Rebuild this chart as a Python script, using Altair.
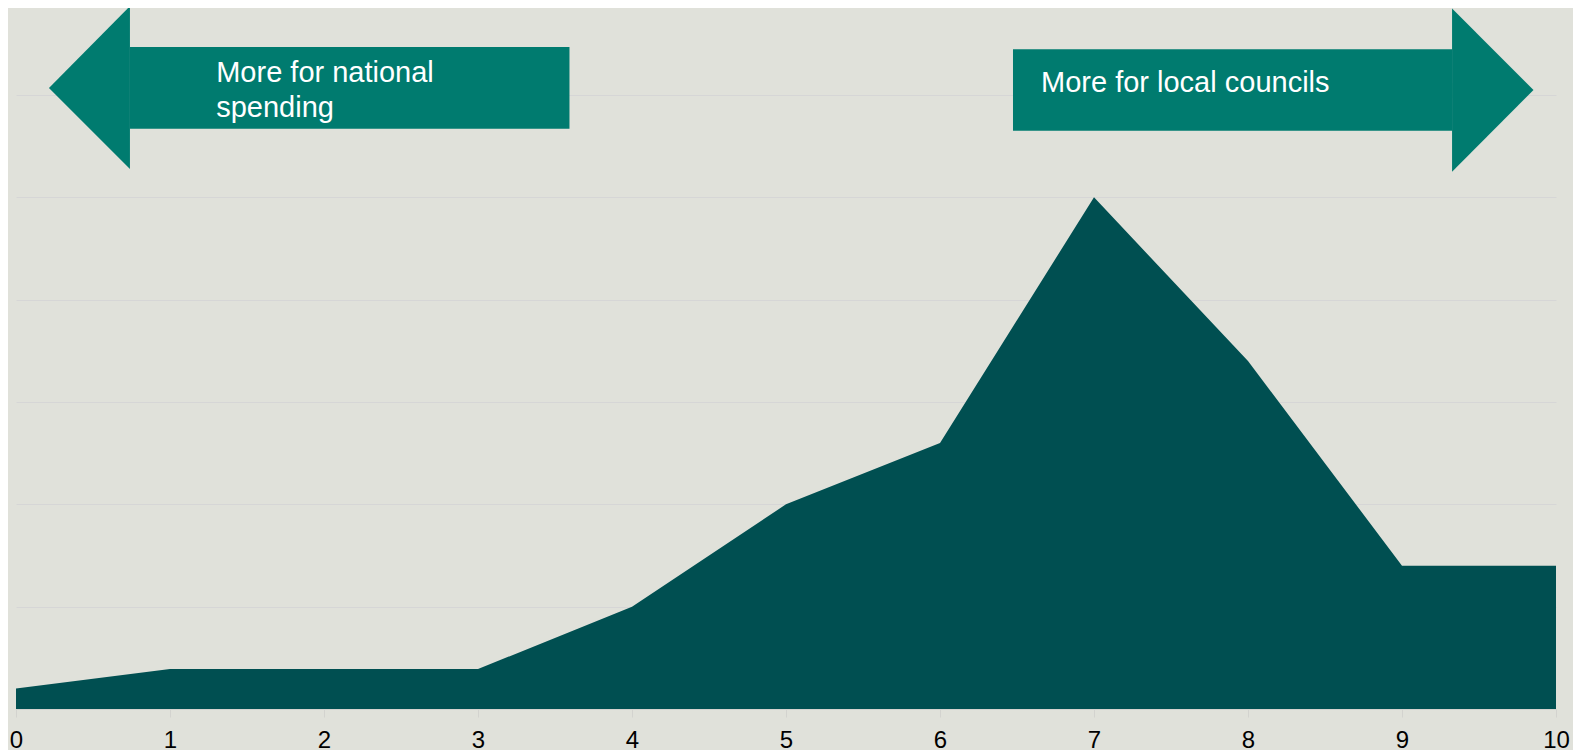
import altair as alt
import pandas as pd

# Main series
scores = [0, 1, 2, 3, 4, 5, 6, 7, 8, 9, 10]
shares = [1.0, 1.95, 1.95, 1.95, 5, 10, 13, 25, 17, 7, 7]

# Annotation arrows (data units)
body_x = [0.740, 6.474]
body_x2 = [3.594, 9.325]
body_y = [32.34, 32.24]
body_y2 = [28.35, 28.25]

head_id = ["left", "left", "right", "right"]
head_x = [0.214, 0.740, 9.325, 9.854]
head_top = [30.34, 34.34, 34.23, 30.24]
head_bottom = [30.34, 26.38, 26.25, 30.24]

label_text = ["More for national\nspending", "More for local councils"]
label_x = [1.30, 6.656]
label_y = [30.63, 30.14]

BG = "#E0E1DA"
AREA = "#004F51"
ARROW = "#007B6F"
FONT = "Liberation Sans"

df = pd.DataFrame({"score": scores, "share": shares})
bodies = pd.DataFrame({"x": body_x, "x2": body_x2, "y": body_y, "y2": body_y2})
heads = pd.DataFrame({"id": head_id, "x": head_x, "y": head_top, "y2": head_bottom})
labels = pd.DataFrame({"t": label_text, "x": label_x, "y": label_y})

xscale = alt.Scale(domain=[0, 10], nice=False, zero=False)
yscale = alt.Scale(domain=[0, 34.25], nice=False)

area = alt.Chart(df).mark_area(color=AREA, opacity=1).encode(
    x=alt.X("score:Q", scale=xscale, title=None,
            axis=alt.Axis(values=scores, format="d", grid=False, domain=True,
                          domainColor="#D3D3CF", tickColor="#D3D3CF", tickSize=8,
                          labelFontSize=24, labelColor="#000000", labelFont=FONT,
                          labelBaseline="alphabetic", labelPadding=30,
                          labelFlush=False, labelOverlap=False)),
    y=alt.Y("share:Q", scale=yscale, title=None,
            axis=alt.Axis(values=[0, 5, 10, 15, 20, 25, 30], grid=True,
                          gridColor="#D6D6D6", gridWidth=1, labels=False,
                          ticks=False, domain=False)),
)

body = alt.Chart(bodies).mark_rect(color=ARROW).encode(
    x="x:Q", x2="x2:Q", y="y:Q", y2="y2:Q"
)

head = alt.Chart(heads).mark_area(color=ARROW, opacity=1).encode(
    x="x:Q", y="y:Q", y2="y2:Q", detail="id:N"
)

text = alt.Chart(labels).mark_text(
    align="left", baseline="alphabetic", color="white", fontSize=29,
    font=FONT, lineHeight=35, lineBreak="\n"
).encode(x="x:Q", y="y:Q", text="t:N")

chart = alt.layer(area, body, head, text).properties(
    width=1540, height=701, background=BG,
    padding={"left": 8, "top": 0, "right": 17, "bottom": 44},
    autosize=alt.AutoSizeParams(type="none"),
).configure_view(stroke=None)

chart.save("out.html", embed_options={"renderer": "svg", "actions": False})
